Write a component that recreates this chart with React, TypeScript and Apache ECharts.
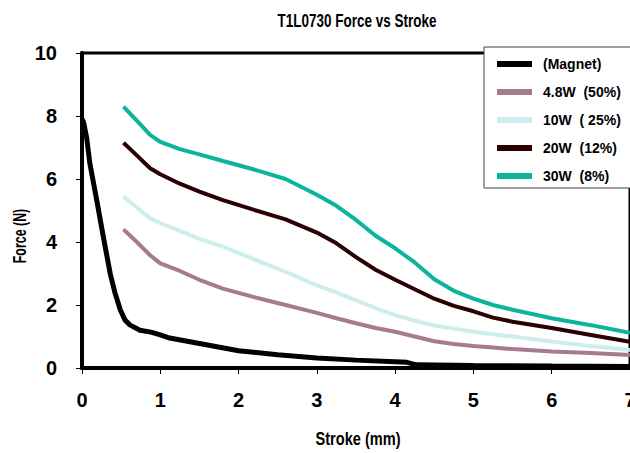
import React, { useEffect, useRef } from "react";
import * as echarts from "echarts";

const titleText = "T1L0730 Force vs Stroke";
const xName = "Stroke (mm)";
const yName = "Force (N)";

const seriesNames = ["(Magnet)", "4.8W  (50%)", "10W  ( 25%)", "20W  (12%)", "30W  (8%)"];
const seriesColors = ["#000000", "#a67b90", "#cdeeed", "#2a0003", "#0ab59c"];

const magnetX = [0, 0.02, 0.06, 0.1, 0.19, 0.27, 0.36, 0.42, 0.49, 0.55, 0.61, 0.74, 0.88, 1.0, 1.12, 1.5, 2.0, 2.5, 3.0, 3.5, 4.0, 4.15, 4.27, 5.0, 6.0, 7.0];
const magnetY = [7.9, 7.8, 7.3, 6.5, 5.3, 4.2, 3.0, 2.4, 1.84, 1.52, 1.37, 1.2, 1.14, 1.05, 0.95, 0.78, 0.55, 0.42, 0.32, 0.25, 0.2, 0.18, 0.1, 0.08, 0.06, 0.05];

const coilX = [0.53, 0.7, 0.87, 1.0, 1.25, 1.5, 1.8, 2.2, 2.6, 3.0, 3.25, 3.5, 3.75, 4.0, 4.25, 4.5, 4.75, 5.0, 5.25, 5.5, 6.0, 6.5, 7.0];
const w48Y = [4.4, 4.0, 3.58, 3.32, 3.08, 2.8, 2.52, 2.25, 2.0, 1.75, 1.58, 1.42, 1.27, 1.15, 1.0, 0.85, 0.76, 0.7, 0.65, 0.6, 0.52, 0.48, 0.41];
const w10Y = [5.44, 5.1, 4.75, 4.6, 4.35, 4.1, 3.85, 3.45, 3.05, 2.62, 2.4, 2.15, 1.9, 1.68, 1.5, 1.35, 1.25, 1.15, 1.07, 1.0, 0.84, 0.7, 0.57];
const w20Y = [7.15, 6.75, 6.34, 6.15, 5.85, 5.6, 5.33, 5.02, 4.72, 4.3, 3.96, 3.52, 3.12, 2.8, 2.5, 2.2, 1.97, 1.8, 1.6, 1.47, 1.27, 1.05, 0.83];
const w30Y = [8.3, 7.85, 7.4, 7.18, 6.95, 6.78, 6.57, 6.3, 6.0, 5.5, 5.15, 4.7, 4.2, 3.8, 3.35, 2.82, 2.45, 2.2, 2.0, 1.85, 1.58, 1.36, 1.12];

const FONT = "'Liberation Sans', Arial, sans-serif";

function pairs(xs: number[], ys: number[]) {
  return xs.map((x, i) => [x, ys[i]]);
}

export default function App() {
  const ref = useRef<HTMLDivElement>(null);
  useEffect(() => {
    if (!ref.current) return;
    const chart = echarts.init(ref.current, null, { renderer: "svg" });
    const data = [
      pairs(magnetX, magnetY),
      pairs(coilX, w48Y),
      pairs(coilX, w10Y),
      pairs(coilX, w20Y),
      pairs(coilX, w30Y),
    ];
    const widths = [5, 4, 4, 4, 4];
    const txt = { fontFamily: FONT, fontWeight: "bold", fill: "#000", textAlign: "center", textVerticalAlign: "middle" };
    chart.setOption({
      animation: false,
      backgroundColor: "#ffffff",
      grid: {
        left: 82,
        right: 0,
        top: 53,
        bottom: 85,
        show: true,
        borderColor: "#000",
        borderWidth: 3,
        containLabel: false,
        outerBoundsMode: "none",
      },
      legend: {
        orient: "vertical",
        left: 484,
        top: 47,
        padding: [9, 40, 4, 13],
        itemGap: 12,
        itemWidth: 35,
        itemHeight: 6,
        icon: "rect",
        backgroundColor: "#ffffff",
        borderColor: "#444",
        borderWidth: 1,
        borderRadius: 0,
        textStyle: { fontFamily: FONT, fontSize: 14, fontWeight: "bold", color: "#000", padding: [0, 0, 0, 6], lineHeight: 16 },
        data: seriesNames,
      },
      xAxis: {
        type: "value",
        min: 0,
        max: 7,
        interval: 1,
        splitLine: { show: false },
        axisLine: { show: true, lineStyle: { color: "#000", width: 4 } },
        axisTick: { show: true, inside: false, length: 6, lineStyle: { color: "#000", width: 1 } },
        axisLabel: { fontFamily: FONT, fontSize: 20, fontWeight: "bold", color: "#000", margin: 22 },
      },
      yAxis: {
        type: "value",
        min: 0,
        max: 10,
        interval: 2,
        splitLine: { show: false },
        axisLine: { show: true, lineStyle: { color: "#000", width: 4 } },
        axisTick: { show: true, inside: false, length: 6, lineStyle: { color: "#000", width: 1 } },
        axisLabel: { fontFamily: FONT, fontSize: 20, fontWeight: "bold", color: "#000", margin: 25 },
      },
      graphic: [
        {
          type: "text",
          x: 357,
          y: 20,
          scaleX: 0.71,
          style: { ...txt, text: titleText, fontSize: 19 },
        },
        {
          type: "text",
          x: 358,
          y: 438,
          scaleX: 0.81,
          style: { ...txt, text: xName, fontSize: 18 },
        },
        {
          type: "text",
          x: 20,
          y: 236,
          rotation: Math.PI / 2,
          scaleX: 0.69,
          style: { ...txt, text: yName, fontSize: 18 },
        },
      ],
      series: seriesNames.map((name, i) => ({
        name,
        type: "line",
        data: data[i],
        showSymbol: false,
        symbol: "none",
        color: seriesColors[i],
        lineStyle: { color: seriesColors[i], width: widths[i] },
        z: 2 + (i === 0 ? 0 : 1),
      })),
    });
    return () => chart.dispose();
  }, []);
  return <div ref={ref} style={{ position: "fixed", left: 0, top: 0, width: 630, height: 453 }} />;
}
